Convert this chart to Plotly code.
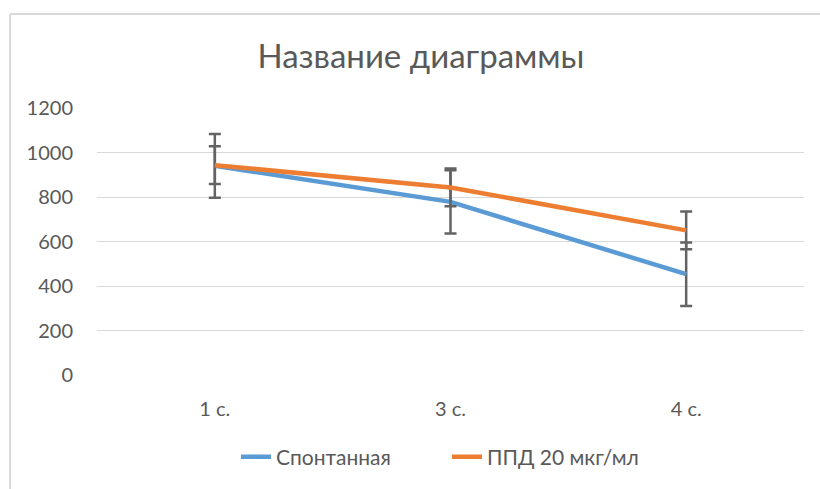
import plotly.graph_objects as go

categories = ["1 с.", "3 с.", "4 с."]
spont = [940, 778, 453]
spont_err = [143, 142, 143]
ppd = [943, 843, 650]
ppd_err = [85, 85, 85]
series_names = ["Спонтанная", "ППД 20 мкг/мл"]
y_ticks = [0, 200, 400, 600, 800, 1000, 1200]

W, H = 820, 489
L, R, T, B = 97, 16, 108, 111
pw, ph = W - L - R, H - T - B

def px(x):
    return (x - L) / pw

def py(y):
    return (H - B - y) / ph

font_fam = "Lato, 'Open Sans', sans-serif"
txt = "#595959"

fig = go.Figure()
fig.add_trace(go.Scatter(
    x=categories, y=spont, name=series_names[0], mode="lines",
    line=dict(color="#5B9BD5", width=4.5),
    error_y=dict(type="data", array=spont_err, visible=True,
                 color="#636363", thickness=2.5, width=6),
))
fig.add_trace(go.Scatter(
    x=categories, y=ppd, name=series_names[1], mode="lines",
    line=dict(color="#ED7D31", width=4.5),
    error_y=dict(type="data", array=ppd_err, visible=True,
                 color="#636363", thickness=2.5, width=6),
))

fig.update_layout(
    width=W, height=H,
    margin=dict(l=L, r=R, t=T, b=B),
    paper_bgcolor="white", plot_bgcolor="white",
    font=dict(family=font_fam, color=txt),
    title=dict(text="Название диаграммы", xref="container", x=421 / W,
               xanchor="center", y=1 - 56 / H, yanchor="middle",
               font=dict(size=33, color=txt, family=font_fam)),
    showlegend=True,
    legend=dict(orientation="h", x=px(236), xanchor="left",
                y=py(461), yanchor="middle",
                font=dict(size=21, color=txt), itemwidth=30,
                entrywidth=166, entrywidthmode="pixels",
                bgcolor="rgba(0,0,0,0)"),
    xaxis=dict(type="category", range=[-0.5, 2.5], showgrid=False,
               showline=False, zeroline=False, ticks="",
               tickfont=dict(size=20, color=txt), ticklabelstandoff=20),
    yaxis=dict(range=[0, 1200], tickvals=y_ticks, showgrid=True,
               gridcolor="#D9D9D9", gridwidth=1.3, zeroline=False,
               showline=False, ticks="",
               tickfont=dict(size=20, color=txt), ticklabelstandoff=23),
    shapes=[
        dict(type="line", xref="paper", yref="paper",
             x0=px(10), x1=px(W + 5), y0=py(13), y1=py(13),
             line=dict(color="#D9D9D9", width=2)),
        dict(type="line", xref="paper", yref="paper",
             x0=px(10), x1=px(10), y0=py(13), y1=py(H + 5),
             line=dict(color="#D9D9D9", width=2)),
    ],
)

fig.write_html("out.html", config={"displayModeBar": False},
               post_script="document.body.style.margin='0';document.body.style.overflow='hidden';")
